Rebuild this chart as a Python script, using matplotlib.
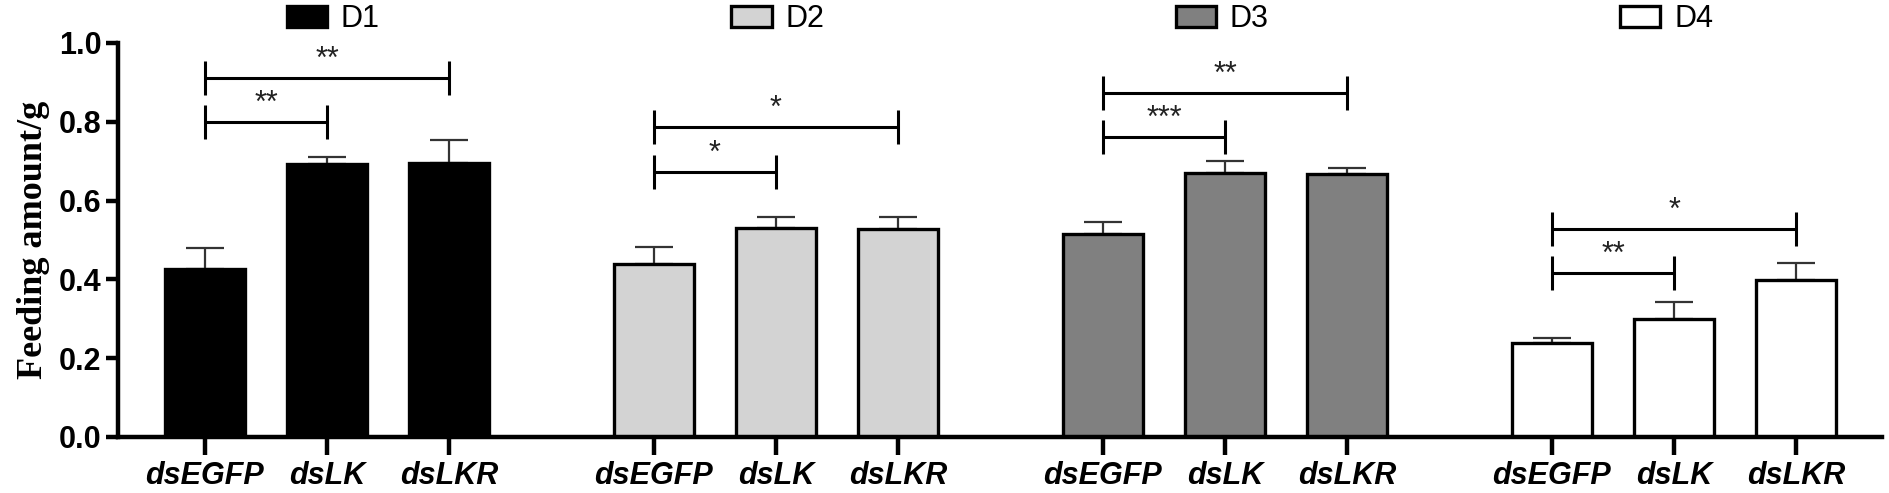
import numpy as np
import matplotlib
matplotlib.use('Agg')
from matplotlib import pyplot as plt

# data
days = ['D1', 'D2', 'D3', 'D4']
treatments = ['dsEGFP', 'dsLK', 'dsLKR']
means = [[0.426, 0.693, 0.696],
         [0.439, 0.530, 0.528],
         [0.515, 0.670, 0.667],
         [0.238, 0.300, 0.398]]
err_top = [[0.480, 0.711, 0.754],
           [0.482, 0.558, 0.558],
           [0.545, 0.700, 0.683],
           [0.251, 0.342, 0.441]]
colors = ['#000000', '#d3d3d3', '#808080', '#ffffff']
# significance brackets: (day index, bar a, bar b, height, label)
sig = [(0, 0, 1, 0.800, '**'), (0, 0, 2, 0.911, '**'),
       (1, 0, 1, 0.673, '*'), (1, 0, 2, 0.787, '*'),
       (2, 0, 1, 0.761, '***'), (2, 0, 2, 0.873, '**'),
       (3, 0, 1, 0.416, '**'), (3, 0, 2, 0.528, '*')]

group_step = 3.68
bar_w = 0.66

fig = plt.figure(figsize=(18.9, 4.93), dpi=100)
ax = fig.add_axes([0.0624, 0.1136, 0.9334, 0.7992])

xs_all, labels_all = [], []
handles = []
for g in range(4):
    xs = g * group_step + np.arange(3)
    m = np.array(means[g])
    up = np.array(err_top[g]) - m
    b = ax.bar(xs, m, width=bar_w, color=colors[g], edgecolor='black',
               linewidth=2.4, label=days[g], zorder=2)
    handles.append(b)
    ax.errorbar(xs, m, yerr=[np.zeros(3), up], fmt='none', ecolor='#333333',
                elinewidth=1.6, capsize=14, capthick=1.6, zorder=1)
    xs_all += list(xs)
    labels_all += treatments

for g, a, bb, h, lab in sig:
    x1 = g * group_step + a
    x2 = g * group_step + bb
    ax.plot([x1, x2], [h, h], color='black', lw=2.2, solid_capstyle='butt')
    ax.plot([x1, x1], [h - 0.043, h + 0.043], color='black', lw=2.2, solid_capstyle='butt')
    ax.plot([x2, x2], [h - 0.043, h + 0.043], color='black', lw=2.2, solid_capstyle='butt')
    ax.annotate(lab, ((x1 + x2) / 2, h), xytext=(0, 2), textcoords='offset points',
                ha='center', va='bottom', fontsize=22, family='Liberation Sans',
                color='#222222')

ax.set_xlim(-0.713, 3 * group_step + 2 + 0.705)
ax.set_ylim(0, 1.0)
ax.set_yticks([0.0, 0.2, 0.4, 0.6, 0.8, 1.0])
ax.set_yticklabels(['0.0', '0.2', '0.4', '0.6', '0.8', '1.0'],
                   fontsize=22, fontweight='bold', family='Liberation Sans')
ax.set_xticks(xs_all)
ax.set_xticklabels(labels_all, fontsize=22, fontweight='bold', fontstyle='italic',
                   family='Liberation Sans')
ax.set_ylabel('Feeding amount/g', fontsize=26, fontweight='bold',
              family='Liberation Serif', labelpad=6)

for s in ['top', 'right']:
    ax.spines[s].set_visible(False)
for s in ['left', 'bottom']:
    ax.spines[s].set_linewidth(3.2)
ax.tick_params(axis='y', length=9, width=3.2, pad=3)
ax.tick_params(axis='x', length=13, width=3.2, pad=4)

leg = ax.legend(handles=handles, ncol=4, loc='center', bbox_to_anchor=(0.5, 1.06),
                frameon=False, prop={'family': 'Liberation Sans', 'size': 22},
                handlelength=1.32, handleheight=0.66, handletextpad=0.45,
                columnspacing=11.5, borderaxespad=0)

fig.savefig('out.png', dpi=100)
